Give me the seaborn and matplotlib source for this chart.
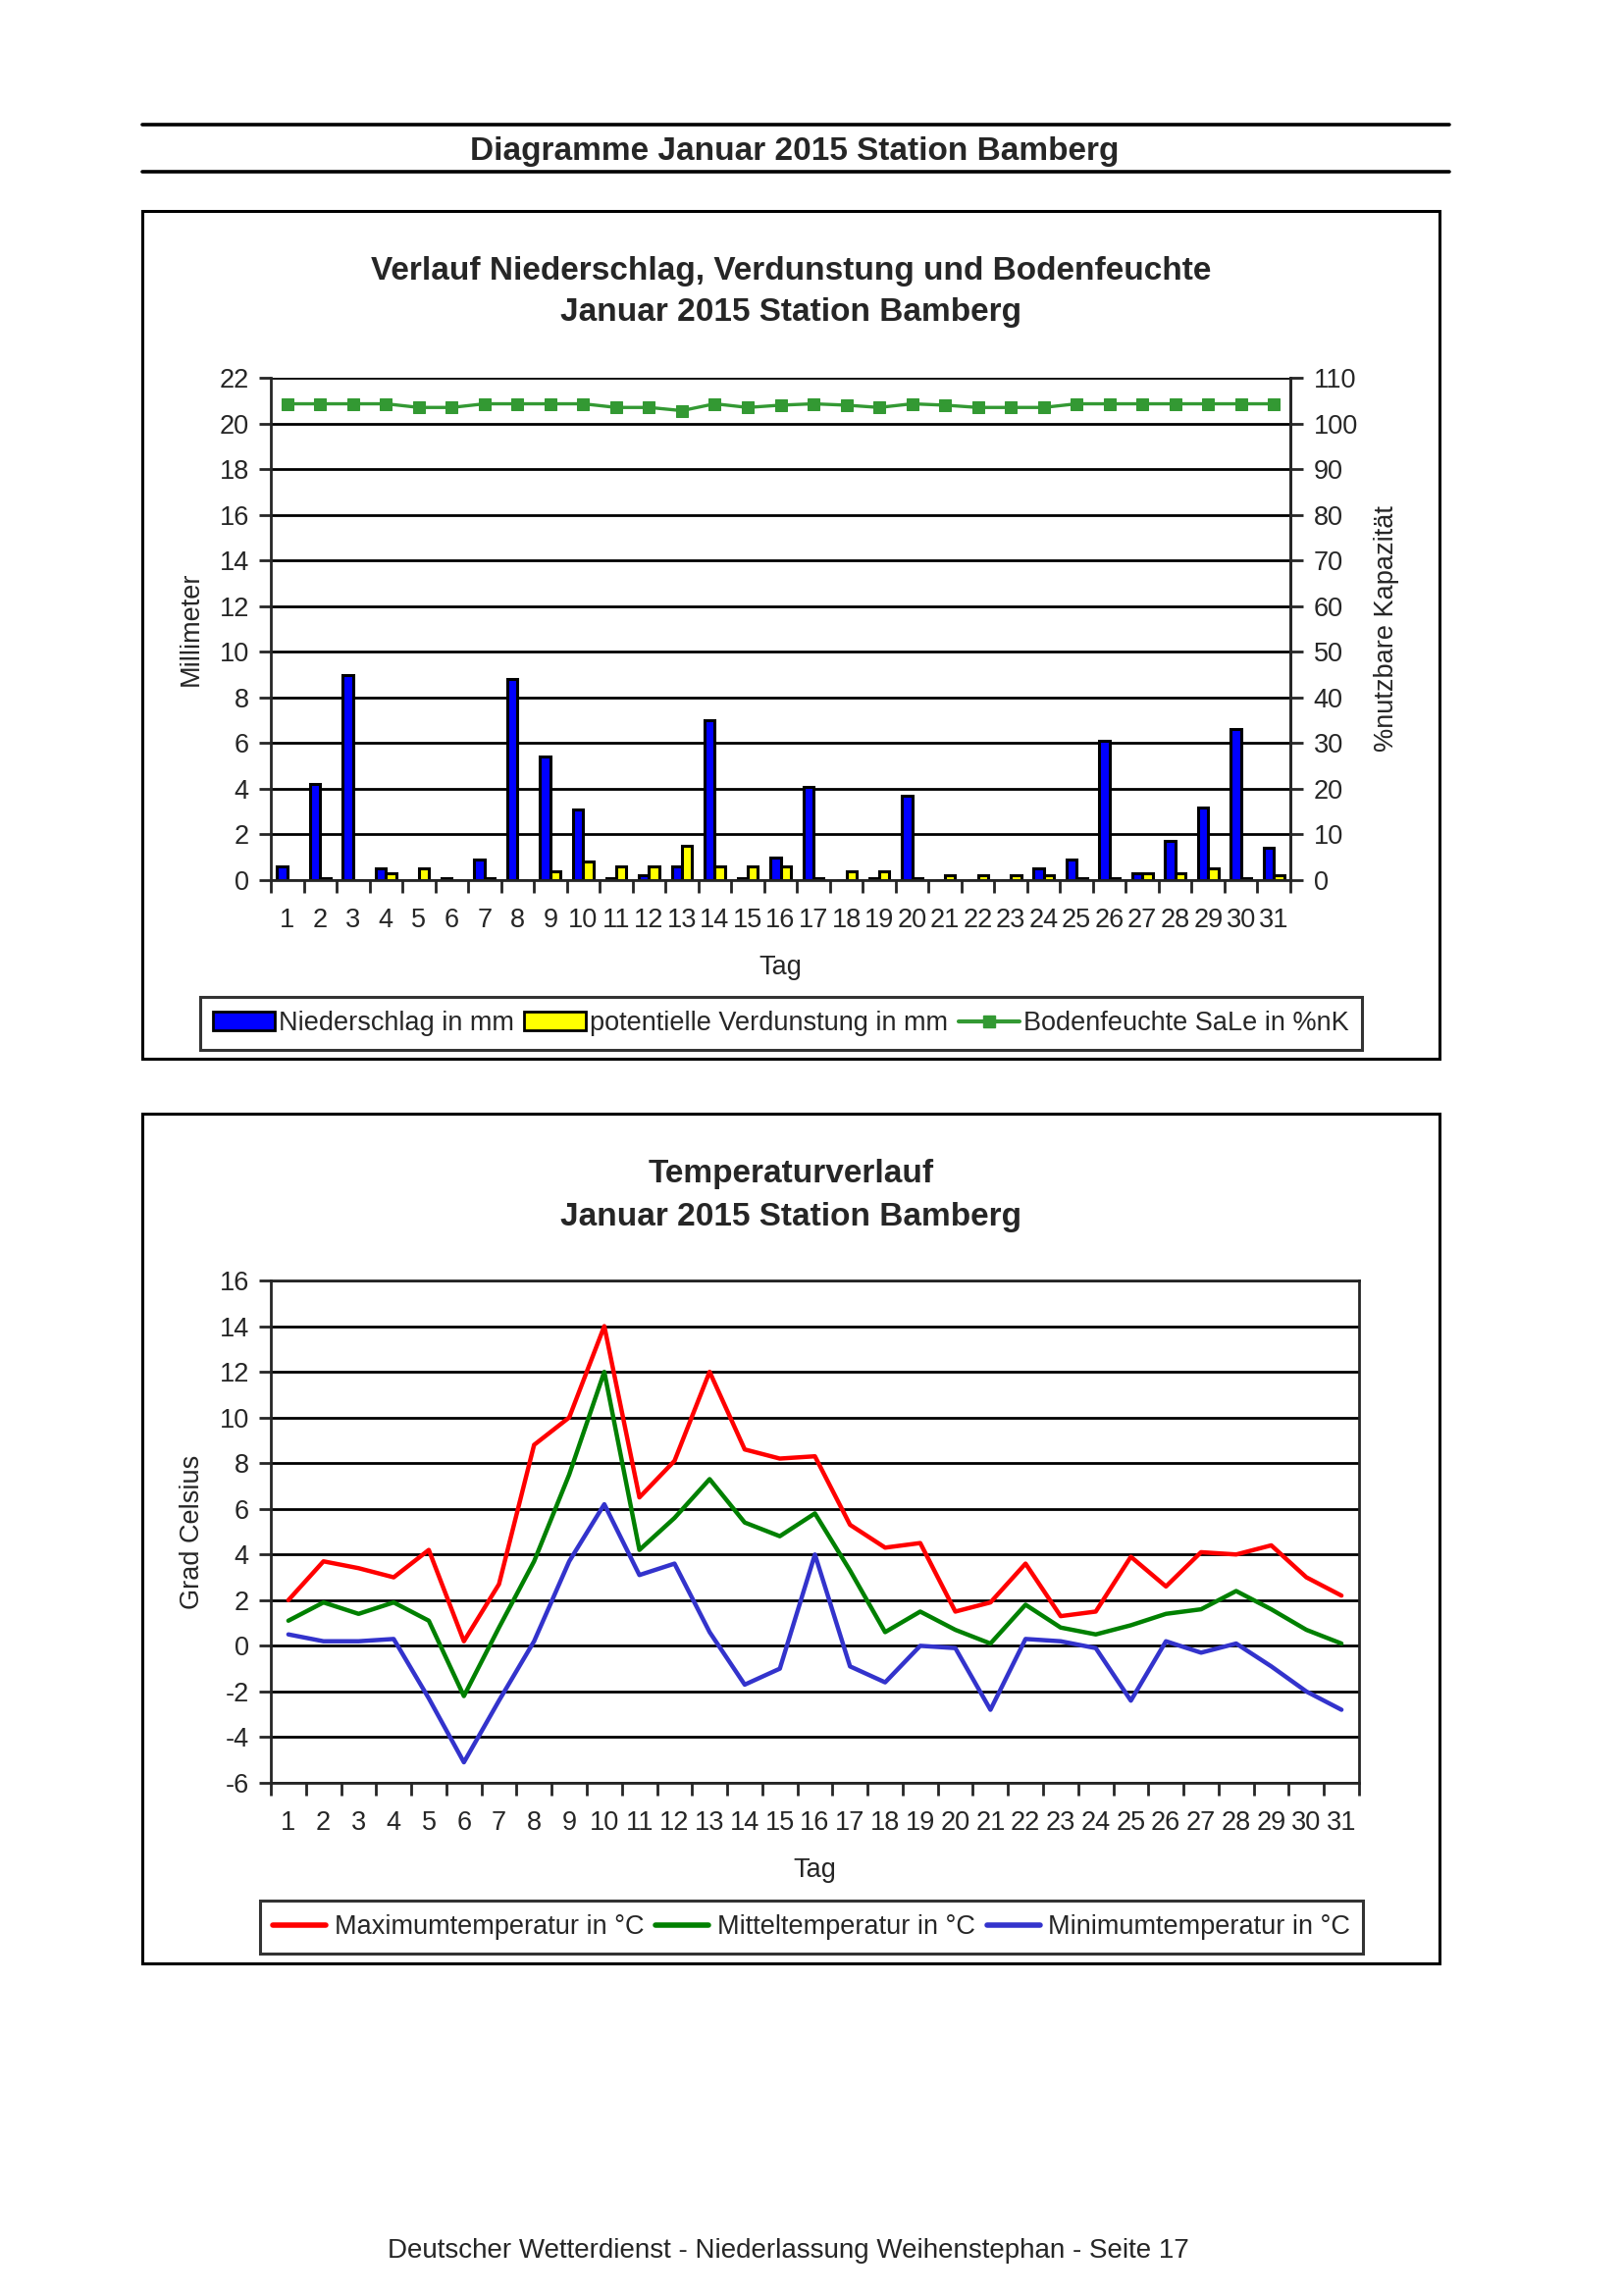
import numpy as np
import pandas as pd
import matplotlib
matplotlib.use("Agg")
import matplotlib.pyplot as plt
import matplotlib.patches as mpatches
from matplotlib.lines import Line2D
import seaborn as sns

# --- data ---
tage = list(range(1, 32))
niederschlag = [0.6, 4.2, 9.0, 0.5, 0.0, 0.1, 0.9, 8.8, 5.4, 3.1, 0.1, 0.2, 0.6, 7.0, 0.1, 1.0,
                4.1, 0.0, 0.1, 3.7, 0.0, 0.0, 0.0, 0.5, 0.9, 6.1, 0.3, 1.7, 3.2, 6.6, 1.4]
verdunstung = [0.0, 0.1, 0.0, 0.3, 0.5, 0.0, 0.1, 0.0, 0.4, 0.8, 0.6, 0.6, 1.5, 0.6, 0.6, 0.6,
               0.1, 0.4, 0.4, 0.1, 0.2, 0.2, 0.2, 0.2, 0.1, 0.1, 0.3, 0.3, 0.5, 0.1, 0.2]
bodenfeuchte = [104.3, 104.3, 104.3, 104.3, 103.5, 103.5, 104.3, 104.3, 104.3, 104.3, 103.5,
                103.5, 102.8, 104.3, 103.5, 104.0, 104.3, 104.0, 103.5, 104.3, 104.0, 103.5,
                103.5, 103.5, 104.3, 104.3, 104.3, 104.3, 104.3, 104.3, 104.3]

tmax = [2.0, 3.7, 3.4, 3.0, 4.2, 0.2, 2.7, 8.8, 10.0, 14.0, 6.5, 8.1, 12.0, 8.6, 8.2, 8.3,
        5.3, 4.3, 4.5, 1.5, 1.9, 3.6, 1.3, 1.5, 3.9, 2.6, 4.1, 4.0, 4.4, 3.0, 2.2]
tmit = [1.1, 1.9, 1.4, 1.9, 1.1, -2.2, 0.8, 3.7, 7.5, 12.0, 4.2, 5.6, 7.3, 5.4, 4.8, 5.8,
        3.3, 0.6, 1.5, 0.7, 0.1, 1.8, 0.8, 0.5, 0.9, 1.4, 1.6, 2.4, 1.6, 0.7, 0.1]
tmin = [0.5, 0.2, 0.2, 0.3, -2.3, -5.1, -2.4, 0.2, 3.7, 6.2, 3.1, 3.6, 0.6, -1.7, -1.0, 4.0,
        -0.9, -1.6, 0.0, -0.1, -2.8, 0.3, 0.2, -0.1, -2.4, 0.2, -0.3, 0.1, -0.9, -2.0, -2.8]

lbl_nied = "Niederschlag in mm"
lbl_verd = "potentielle Verdunstung in mm"
lbl_bod = "Bodenfeuchte SaLe in %nK"
lbl_tmax = "Maximumtemperatur in °C"
lbl_tmit = "Mitteltemperatur in °C"
lbl_tmin = "Minimumtemperatur in °C"

c_blue, c_yellow, c_green = "#0000FF", "#FFFF00", "#339933"
c_red, c_mgreen, c_mblue = "#FF0000", "#008000", "#3333CC"

sns.set_style("white")
plt.rcParams["font.family"] = ["Liberation Sans", "DejaVu Sans"]
plt.rcParams["axes.linewidth"] = 2.0
plt.rcParams["axes.unicode_minus"] = False

W, H = 1653, 2340
fig = plt.figure(figsize=(W / 100, H / 100), dpi=100)


def fx(p):
    return p / W


def fy(p):
    return 1 - p / H


def ax_rect(x0, y0, x1, y1):
    return [fx(x0), fy(y1), fx(x1) - fx(x0), fy(y0) - fy(y1)]


FS = 19.5
TS = 24

# page header
for yy in (127, 175):
    fig.add_artist(Line2D([fx(145), fx(1477)], [fy(yy), fy(yy)], color="black", lw=2.6))
fig.text(fx(810), fy(154), "Diagramme Januar 2015 Station Bamberg", ha="center", va="center",
         fontsize=TS, fontweight="bold")

# chart frames
for (x0, y0, x1, y1) in [(145, 215, 1467, 1079), (145, 1135, 1467, 2001)]:
    fig.add_artist(mpatches.Rectangle((fx(x0), fy(y1)), fx(x1) - fx(x0), fy(y0) - fy(y1),
                                      transform=fig.transFigure, fill=False,
                                      edgecolor="black", lw=2.2))


def day_axis(ax):
    ax.set_xlim(0.5, 31.5)
    ax.set_xticks(tage)
    ax.set_xticklabels([str(t) for t in tage])
    ax.set_xticks(np.arange(0.5, 32, 1), minor=True)
    ax.tick_params(axis="x", which="major", length=0, pad=20, labelsize=FS)
    ax.tick_params(axis="x", which="minor", length=9, width=2, direction="out", bottom=True)
    ax.set_xlabel("Tag", fontsize=FS, labelpad=16)


# ---------- top chart ----------
fig.text(fx(806), fy(276), "Verlauf Niederschlag, Verdunstung und Bodenfeuchte",
         ha="center", va="center", fontsize=TS, fontweight="bold")
fig.text(fx(806), fy(319), "Januar 2015 Station Bamberg",
         ha="center", va="center", fontsize=TS, fontweight="bold")

ax1 = fig.add_axes(ax_rect(276, 385, 1315, 897))
bars = pd.DataFrame({
    "Tag": tage * 2,
    "mm": niederschlag + verdunstung,
    "Reihe": [lbl_nied] * len(tage) + [lbl_verd] * len(tage),
})
sns.barplot(data=bars, x="Tag", y="mm", hue="Reihe", palette=[c_blue, c_yellow],
            native_scale=True, width=0.62, gap=0, errorbar=None, edgecolor="black",
            linewidth=2.2, saturation=1, legend=False, ax=ax1)
ax1.set_ylim(0, 22)
ax1.set_yticks(np.arange(0, 23, 2))
ax1.yaxis.grid(True, color="black", lw=2.0)
ax1.set_axisbelow(True)
ax1.tick_params(axis="y", length=9, width=2, direction="out", left=True, pad=7, labelsize=FS)
ax1.set_ylabel("Millimeter", fontsize=FS)
ax1.yaxis.set_label_coords(-0.066, 0.5)
day_axis(ax1)
ax1.spines["top"].set_visible(False)

ax2 = ax1.twinx()
sns.lineplot(x=tage, y=bodenfeuchte, color=c_green, lw=2.4, marker="s", markersize=9,
             markeredgecolor=c_green, ax=ax2)
ax2.set_ylim(0, 110)
ax2.set_yticks(np.arange(0, 111, 10))
ax2.tick_params(axis="y", length=9, width=2, direction="out", right=True, pad=8, labelsize=FS)
ax2.set_ylabel("%nutzbare Kapazität", fontsize=FS)
ax2.yaxis.set_label_coords(1.082, 0.5)
ax2.spines["top"].set_visible(False)
ax2.spines["left"].set_visible(False)
ax2.spines["bottom"].set_visible(False)

h_top = [mpatches.Patch(facecolor=c_blue, edgecolor="black", lw=2),
         mpatches.Patch(facecolor=c_yellow, edgecolor="black", lw=2),
         Line2D([], [], color=c_green, lw=3, marker="s", markersize=9)]
leg1 = fig.legend(h_top, [lbl_nied, lbl_verd, lbl_bod], loc="center",
                  bbox_to_anchor=(fx(796), fy(1043)), ncol=3, fontsize=FS, frameon=True,
                  fancybox=False, edgecolor="black", handlelength=2.3, handletextpad=0.15,
                  columnspacing=0.4, borderpad=0.5, borderaxespad=0)
leg1.get_frame().set_linewidth(2.2)

# ---------- bottom chart ----------
fig.text(fx(806), fy(1197), "Temperaturverlauf", ha="center", va="center",
         fontsize=TS, fontweight="bold")
fig.text(fx(806), fy(1241), "Januar 2015 Station Bamberg", ha="center", va="center",
         fontsize=TS, fontweight="bold")

ax3 = fig.add_axes(ax_rect(276, 1305, 1385, 1817))
temps = pd.DataFrame({
    "Tag": tage * 3,
    "Grad": tmax + tmit + tmin,
    "Reihe": [lbl_tmax] * len(tage) + [lbl_tmit] * len(tage) + [lbl_tmin] * len(tage),
})
sns.lineplot(data=temps, x="Tag", y="Grad", hue="Reihe",
             palette=[c_red, c_mgreen, c_mblue], lw=3.2, legend=False, ax=ax3)
ax3.set_ylim(-6, 16)
ax3.set_yticks(np.arange(-6, 17, 2))
ax3.yaxis.grid(True, color="black", lw=2.0)
ax3.set_axisbelow(True)
ax3.tick_params(axis="y", length=9, width=2, direction="out", left=True, pad=7, labelsize=FS)
ax3.set_ylabel("Grad Celsius", fontsize=FS)
ax3.yaxis.set_label_coords(-0.060, 0.5)
day_axis(ax3)

h_bot = [Line2D([], [], color=c, lw=4) for c in (c_red, c_mgreen, c_mblue)]
leg2 = fig.legend(h_bot, [lbl_tmax, lbl_tmit, lbl_tmin], loc="center",
                  bbox_to_anchor=(fx(827), fy(1964)), ncol=3, fontsize=FS, frameon=True,
                  fancybox=False, edgecolor="black", handlelength=2.0, handletextpad=0.3,
                  columnspacing=0.45, borderpad=0.5, borderaxespad=0)
leg2.get_frame().set_linewidth(2.2)

fig.text(fx(803), fy(2294), "Deutscher Wetterdienst - Niederlassung Weihenstephan - Seite 17",
         ha="center", va="center", fontsize=20)

fig.savefig("out.png", dpi=100)
